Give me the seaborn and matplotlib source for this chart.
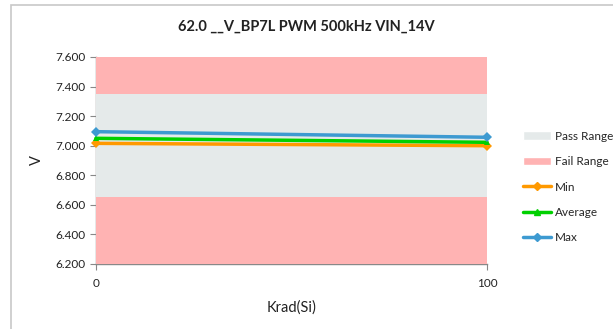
import matplotlib
matplotlib.use("Agg")
import matplotlib.pyplot as plt
import seaborn as sns
import pandas as pd
from matplotlib.patches import Rectangle, Patch
from matplotlib.lines import Line2D
from matplotlib.ticker import FormatStrFormatter

krad = [0, 100]
min_v = [7.016, 7.000]
avg_v = [7.050, 7.023]
max_v = [7.095, 7.057]
pass_range = [6.65, 7.35]
fail_low = [6.2, 6.65]
fail_high = [7.35, 7.6]
y_ticks = [6.2, 6.4, 6.6, 6.8, 7.0, 7.2, 7.4, 7.6]
title = "62.0 __V_BP7L PWM 500kHz VIN_14V"

sns.set_theme(style="white")
plt.rcParams['font.family'] = ['Lato', 'DejaVu Sans']

fig = plt.figure(figsize=(6.13, 3.29), dpi=100)
ax = fig.add_axes([96/613, 1-264/329, (487-96)/613, (264-57)/329])

# outer chart border
fig.patches.append(Rectangle((11/613, -0.1), 1.0, 1 - 5/329 + 0.1, transform=fig.transFigure,
                             fill=False, edgecolor="#C8C8C8", linewidth=1.2))

pass_c = "#E5EAEA"
fail_c = "#FFB3B3"
ax.axhspan(fail_low[0], fail_low[1], color=fail_c, lw=0)
ax.axhspan(fail_high[0], fail_high[1], color=fail_c, lw=0)
ax.axhspan(pass_range[0], pass_range[1], color=pass_c, lw=0)

df = pd.DataFrame({"Krad": krad * 3,
                   "V": min_v + avg_v + max_v,
                   "Series": ["Min"] * 2 + ["Average"] * 2 + ["Max"] * 2})
colors = {"Min": "#FF9900", "Average": "#00D000", "Max": "#3D9AD1"}
markers = {"Min": "D", "Average": "^", "Max": "D"}
for s in ["Min", "Average", "Max"]:
    sns.lineplot(data=df[df.Series == s], x="Krad", y="V", color=colors[s],
                 marker=markers[s], markersize=5, markeredgewidth=0,
                 linewidth=2.5, ax=ax, legend=False, clip_on=False)

ax.set_xlim(0, 100)
ax.set_ylim(6.2, 7.6)
ax.set_xticks(krad)
ax.set_yticks(y_ticks)
ax.yaxis.set_major_formatter(FormatStrFormatter("%.3f"))
for sp in ["top", "right"]:
    ax.spines[sp].set_visible(False)
for sp in ["left", "bottom"]:
    ax.spines[sp].set_color("#888888")
    ax.spines[sp].set_linewidth(1)
    ax.spines[sp].set_zorder(0.5)
ax.tick_params(axis="both", labelsize=8.5, colors="#222222", length=4, width=0.8,
               direction="out", left=True, bottom=True)
ax.tick_params(axis="both", color="#888888")
ax.tick_params(axis="x", pad=6)
ax.set_xlabel("Krad(Si)", fontsize=10.5, color="#222222", labelpad=8)
ax.set_ylabel("V", fontsize=10.5, color="#222222", labelpad=8)
fig.text(0.5, 1-27/329, title, ha="center", va="center", fontsize=10.5,
         fontweight="bold", color="#222222")

handles = [Patch(facecolor=pass_c, label="Pass Range"),
           Patch(facecolor=fail_c, label="Fail Range"),
           Line2D([], [], color=colors["Min"], marker="D", markersize=4, lw=2.5, label="Min"),
           Line2D([], [], color=colors["Average"], marker="^", markersize=4, lw=2.5, label="Average"),
           Line2D([], [], color=colors["Max"], marker="D", markersize=4, lw=2.5, label="Max")]
fig.legend(handles=handles, loc="upper left", bbox_to_anchor=(518/613, 1-126/329),
           frameon=False, fontsize=8.5, handlelength=2.4, handleheight=0.7,
           labelspacing=1.22, handletextpad=0.3, borderaxespad=0)

fig.savefig("out.png", dpi=100)
